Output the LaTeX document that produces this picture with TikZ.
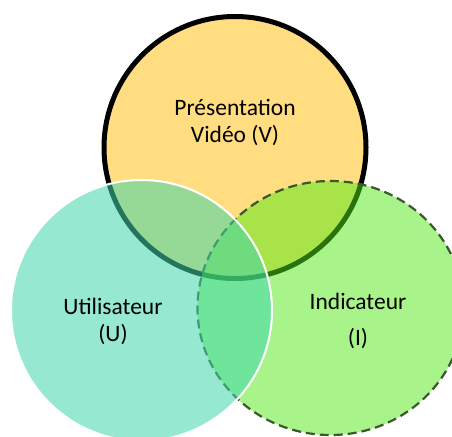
\documentclass[tikz,border=0pt]{standalone}
\usepackage{fontspec}
\setmainfont{Carlito}
\usetikzlibrary{shapes.geometric}
\definecolor{vfill}{RGB}{255,221,128}
\definecolor{ufill}{RGB}{64,215,170}
\definecolor{ifill}{RGB}{83,233,21}
\definecolor{iline}{RGB}{58,88,44}
\tikzset{
  venn/.style={circle, inner sep=0pt, outer sep=0pt},
  lbl/.style={font=\fontsize{23.5}{28}\selectfont, text=black, align=center, inner sep=0pt}
}
\begin{document}
\begin{tikzpicture}[x=1pt,y=-1pt]
\useasboundingbox (0,0) rectangle (452,436);
\begin{scope}
\clip (0,0) rectangle (452,436);
\node[venn, minimum size=262pt, fill=vfill, draw=black, line width=5pt] (V) at (235,147.5) {};
\node[ellipse, inner sep=0pt, outer sep=0pt, minimum width=266pt, minimum height=254pt, fill=ifill, fill opacity=0.5, draw=iline, draw opacity=1, line width=2.2pt, dash pattern=on 9pt off 5pt] (I) at (330.5,308) {};
\node[venn, minimum size=261pt, fill=ufill, fill opacity=0.55, draw=white, draw opacity=1, line width=2pt] (U) at (141.5,310.5) {};
\end{scope}
\node[lbl, anchor=base] (tv1) at (235,115) {Présentation};
\node[lbl, anchor=base] (tv2) at (235,142) {Vidéo (V)};
\node[lbl, anchor=base] (tu1) at (113,314) {Utilisateur};
\node[lbl, anchor=base] (tu2) at (113,341) {(U)};
\node[lbl, anchor=base] (ti1) at (358,309) {Indicateur};
\node[lbl, anchor=base] (ti2) at (358,345) {(I)};
\end{tikzpicture}
\end{document}
